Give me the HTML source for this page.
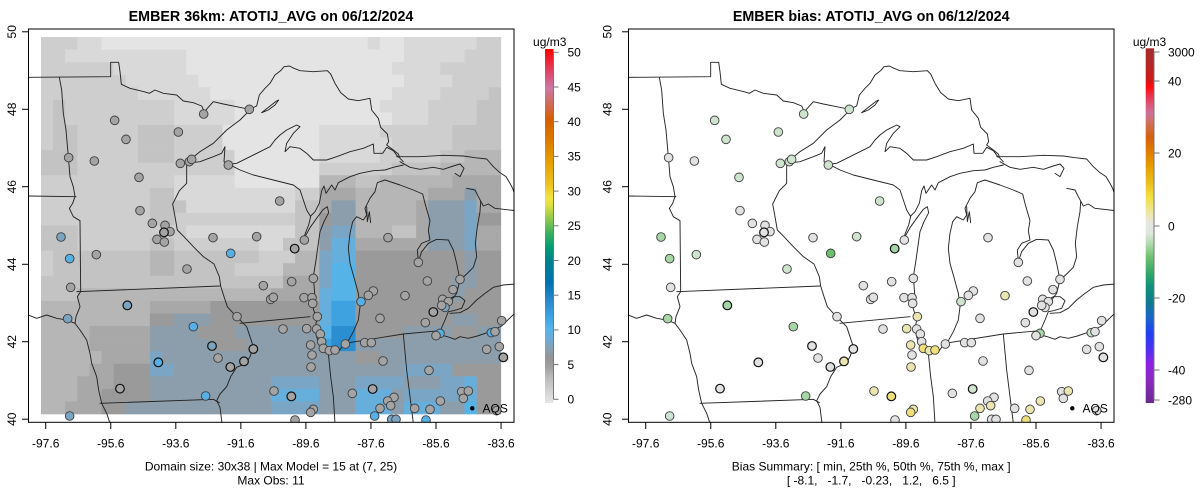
<!DOCTYPE html>
<html><head><meta charset="utf-8">
<style>
html,body{margin:0;padding:0;background:#fff;}
svg{display:block;font-family:"Liberation Sans",Arial,sans-serif;}
.t{font-size:12px;fill:#000;}
.ttl{font-size:14.3px;font-weight:bold;fill:#000;}
</style></head><body>
<svg id="s" width="1200" height="502" viewBox="0 0 1200 502" xmlns="http://www.w3.org/2000/svg">
<defs>
 <clipPath id="cl"><rect x="28.5" y="29" width="485.5" height="393.3"/></clipPath>
 <clipPath id="cr"><rect x="628.5" y="29" width="485.5" height="393.3"/></clipPath>
 <linearGradient id="gL" x1="0" y1="1" x2="0" y2="0">
  <stop offset="0" stop-color="#e6e6e6"/><stop offset="0.04" stop-color="#cfcfcf"/>
  <stop offset="0.08" stop-color="#b4b4b4"/><stop offset="0.1" stop-color="#a0a0a0"/>
  <stop offset="0.13" stop-color="#949494"/><stop offset="0.15" stop-color="#8aa0b0"/>
  <stop offset="0.18" stop-color="#6eaad6"/><stop offset="0.21" stop-color="#56b4e9"/>
  <stop offset="0.25" stop-color="#3aa0e0"/><stop offset="0.29" stop-color="#2a88cc"/>
  <stop offset="0.34" stop-color="#0072b2"/><stop offset="0.40" stop-color="#00808f"/>
  <stop offset="0.44" stop-color="#009e73"/><stop offset="0.48" stop-color="#3cb060"/>
  <stop offset="0.52" stop-color="#90c850"/><stop offset="0.56" stop-color="#e0e040"/>
  <stop offset="0.58" stop-color="#f0e442"/><stop offset="0.62" stop-color="#ecc020"/>
  <stop offset="0.68" stop-color="#e69f00"/><stop offset="0.74" stop-color="#dc7c00"/>
  <stop offset="0.80" stop-color="#d55e00"/><stop offset="0.84" stop-color="#cf6a50"/>
  <stop offset="0.89" stop-color="#cc79a7"/><stop offset="0.94" stop-color="#e04060"/>
  <stop offset="1" stop-color="#ff0000"/>
 </linearGradient>
 <linearGradient id="gR" x1="0" y1="0" x2="0" y2="1">
  <stop offset="0" stop-color="#a52a2a"/><stop offset="0.043" stop-color="#b02828"/>
  <stop offset="0.09" stop-color="#d01818"/><stop offset="0.109" stop-color="#ff0a0a"/>
  <stop offset="0.132" stop-color="#e8304a"/><stop offset="0.16" stop-color="#dc5878"/>
  <stop offset="0.184" stop-color="#cc7398"/><stop offset="0.212" stop-color="#d07058"/>
  <stop offset="0.25" stop-color="#d46010"/><stop offset="0.296" stop-color="#e08000"/>
  <stop offset="0.334" stop-color="#e69f00"/><stop offset="0.381" stop-color="#ecbf20"/>
  <stop offset="0.419" stop-color="#f0e040"/><stop offset="0.466" stop-color="#eee6a8"/>
  <stop offset="0.494" stop-color="#e6e6e6"/><stop offset="0.522" stop-color="#dde6dd"/>
  <stop offset="0.55" stop-color="#b0dcb0"/><stop offset="0.588" stop-color="#70c070"/>
  <stop offset="0.635" stop-color="#30a868"/><stop offset="0.672" stop-color="#10907a"/>
  <stop offset="0.719" stop-color="#107890"/><stop offset="0.757" stop-color="#1868c8"/>
  <stop offset="0.804" stop-color="#2040f0"/><stop offset="0.851" stop-color="#5030f0"/>
  <stop offset="0.889" stop-color="#9020e0"/><stop offset="0.935" stop-color="#8a2ac0"/>
  <stop offset="1" stop-color="#6a2a90"/>
 </linearGradient>
 <g id="map" fill="none" stroke="#222" stroke-width="2.8" stroke-linejoin="round" stroke-linecap="round">
  <path d="M25,142 L272,140 L272,97 L296,97 L300,125 L304,163 L330,175 L372,185 L388,190 L405,180 L430,190 L470,195 L490,213 L520,218 L545,228 L553,245 L580,215 L610,222 L650,230 L688,238 L710,228 L718,195 L735,175 L750,160 L765,135 L782,122 L792,110 L808,108 L822,115 L840,122 L880,125 L922,122 L932,132 L945,160 L962,188 L985,207 L1015,212 L1050,205 L1055,240 L1075,265 L1082,292 L1102,312 L1106,335 L1100,345 L1120,360 L1135,372 L1140,385 L1150,395"/>
  <path d="M1130,380 L1200,380 L1270,376 L1330,378 L1365,383 L1400,387 L1420,410 L1440,428 L1458,440 L1470,460 L1478,475 L1486,500"/>
  <path d="M1140,395 L1170,412 L1200,418 L1240,412 L1270,418 L1300,408 L1320,402 L1332,415 L1320,440 L1305,430"/>
  <path d="M1340,475 L1365,480 L1375,500 L1390,528 L1405,522 L1425,535 L1486,542"/>
  <path d="M1382,515 L1380,545 L1372,590 L1366,640 L1370,680 L1360,712 L1340,732 L1320,750 L1310,790 L1295,810"/>
  <path d="M1280,812 L1300,800 L1320,800 L1335,812 L1325,835 L1300,842 L1285,845 L1275,870 L1262,900 L1250,912 L1282,920 L1305,928 L1320,920 L1345,925 L1372,918 L1410,905 L1445,888 L1486,848"/>
  <path d="M1290,850 L1320,848 L1345,835 L1370,810 L1395,790 L1420,772 L1450,765 L1486,762"/>
  <path d="M1095,450 L1072,458 L1065,485 L1050,505 L1035,535 L1040,555 L1030,570 L1010,560 L998,575 L990,610 L985,655 L990,700 L1002,742 L1015,790 L1020,830 L1015,870 L1000,905 L985,932 L970,945 L958,962 L935,966 L910,952 L893,930 L884,900 L890,870 L878,830 L884,790 L880,740 L888,690 L895,640 L900,605 L912,575 L926,548 L922,530 L910,538 L892,562 L872,590 L855,620"/>
  <path d="M1040,530 L1042,575 L1048,545 L1052,578"/>
  <path d="M1095,450 L1140,465 L1180,480 L1208,492 L1215,520 L1222,545 L1230,572 L1225,602 L1230,630 L1205,640 L1192,660 L1195,695 L1205,665 L1225,640 L1250,628 L1285,630 L1300,660 L1310,700 L1320,750"/>
  <path d="M627,403 L660,420 L700,435 L760,450 L820,465 L840,480 L850,510 L860,540 L872,560 L866,585 L856,610 L850,628"/>
  <path d="M872,558 L885,545 L898,520 L905,482 L912,468 L918,490 L935,465 L945,480 L955,458 L990,440 L1020,430 L1060,422 L1095,420 L1120,412 L1150,405"/>
  <path d="M500,400 L540,395 L580,380 L605,370 L615,350 L612,395 L627,403 L650,400 L690,380 L720,365 L750,350 L765,330 L780,315 L800,300 L830,285 L840,290 L820,310 L800,340 L795,365 L810,350 L840,355 L860,370 L880,390 L920,390 L950,380 L990,365 L1030,355 L1060,342 L1062,370 L1088,370 L1100,352 L1120,362 L1135,382"/>
  <path d="M500,398 L540,365 L580,340 L620,300 L660,270 L680,250 L690,240"/>
  <path d="M725,248 L745,232 L768,214 L776,210 L765,225 L745,240 Z"/>
  <path d="M500,400 L500,460 L478,482 L458,522 L465,560 L472,600 L492,620 L520,650 L550,680 L582,702 L598,740 L602,768 L612,800 L622,830 L640,850 L662,872 L680,890 L690,920 L700,950 L690,980 L678,1000 L650,1012 L632,1040 L620,1070 L600,1092 L590,1112 L600,1132 L606,1180"/>
  <path d="M170,785 L600,768"/>
  <path d="M660,880 L870,860"/>
  <path d="M925,970 L932,1040 L940,1100 L945,1180"/>
  <path d="M975,940 L1150,912 L1258,902"/>
  <path d="M1150,912 L1160,1020 L1180,1180"/>
  <path d="M118,142 L125,180 L130,250 L138,300 L145,380 L150,440 L160,470 L165,500 L158,520 L148,535 L160,560 L180,572 L182,785"/>
  <path d="M25,498 L168,500"/>
  <path d="M25,855 L50,865 L80,855 L110,865 L140,870 L165,880"/>
  <path d="M182,785 L172,800 L180,830 L168,860 L165,880 L180,900 L200,930 L210,970 L215,1000 L230,1040 L236,1080 L245,1120 L260,1150 L270,1180"/>
  <path d="M240,1120 L580,1108 L598,1118"/>
 </g>
</defs>
<rect width="1200" height="502" fill="#fff"/>

<!-- LEFT PANEL -->
<g clip-path="url(#cl)">
 <g id="rasterL" transform="translate(20,30) scale(0.333333)"></g>
 <use href="#map" transform="translate(20,30) scale(0.333333)"/>
 <g id="ptsL" transform="translate(20,30) scale(0.333333)"></g>
 <circle cx="472.3" cy="408.3" r="2.2" fill="#000"/>
 <text class="t" x="482.5" y="412.5">AQS</text>
</g>
<rect x="28.5" y="29" width="485.5" height="393.3" fill="none" stroke="#000" stroke-width="1"/>
<text class="ttl" x="271" y="21" text-anchor="middle">EMBER 36km: ATOTIJ_AVG on 06/12/2024</text>
<g stroke="#000" stroke-width="1">
 <line x1="22" y1="31.8" x2="28.5" y2="31.8"/><line x1="22" y1="109.3" x2="28.5" y2="109.3"/>
 <line x1="22" y1="186.7" x2="28.5" y2="186.7"/><line x1="22" y1="264.3" x2="28.5" y2="264.3"/>
 <line x1="22" y1="341.7" x2="28.5" y2="341.7"/><line x1="22" y1="419.2" x2="28.5" y2="419.2"/>
 <line x1="45.7" y1="422.3" x2="45.7" y2="429"/><line x1="110.75" y1="422.3" x2="110.75" y2="429"/>
 <line x1="175.8" y1="422.3" x2="175.8" y2="429"/><line x1="240.85" y1="422.3" x2="240.85" y2="429"/>
 <line x1="305.9" y1="422.3" x2="305.9" y2="429"/><line x1="370.95" y1="422.3" x2="370.95" y2="429"/>
 <line x1="436" y1="422.3" x2="436" y2="429"/><line x1="501.05" y1="422.3" x2="501.05" y2="429"/>
</g>
<g class="t" text-anchor="middle">
 <text transform="translate(15.8,31.8) rotate(-90)">50</text>
 <text transform="translate(15.8,109.3) rotate(-90)">48</text>
 <text transform="translate(15.8,186.7) rotate(-90)">46</text>
 <text transform="translate(15.8,264.3) rotate(-90)">44</text>
 <text transform="translate(15.8,341.7) rotate(-90)">42</text>
 <text transform="translate(15.8,419.2) rotate(-90)">40</text>
 <text x="45.7" y="447.5">-97.6</text><text x="110.75" y="447.5">-95.6</text>
 <text x="175.8" y="447.5">-93.6</text><text x="240.85" y="447.5">-91.6</text>
 <text x="305.9" y="447.5">-89.6</text><text x="370.95" y="447.5">-87.6</text>
 <text x="436" y="447.5">-85.6</text><text x="501.05" y="447.5">-83.6</text>
 <text x="271" y="470.5">Domain size: 30x38 | Max Model = 15 at (7, 25)</text>
 <text x="271" y="484.5">Max Obs: 11</text>
</g>
<!-- left colorbar -->
<rect x="545" y="49" width="8.5" height="354" fill="url(#gL)"/>
<line x1="553.5" y1="52.3" x2="553.5" y2="399.3" stroke="#777" stroke-width="1"/>
<g stroke="#777" stroke-width="1">
 <line x1="553.5" y1="52.3" x2="558.5" y2="52.3"/><line x1="553.5" y1="87" x2="558.5" y2="87"/>
 <line x1="553.5" y1="121.7" x2="558.5" y2="121.7"/><line x1="553.5" y1="156.4" x2="558.5" y2="156.4"/>
 <line x1="553.5" y1="191.1" x2="558.5" y2="191.1"/><line x1="553.5" y1="225.8" x2="558.5" y2="225.8"/>
 <line x1="553.5" y1="260.5" x2="558.5" y2="260.5"/><line x1="553.5" y1="295.2" x2="558.5" y2="295.2"/>
 <line x1="553.5" y1="329.9" x2="558.5" y2="329.9"/><line x1="553.5" y1="364.6" x2="558.5" y2="364.6"/>
 <line x1="553.5" y1="399.3" x2="558.5" y2="399.3"/>
</g>
<g class="t">
 <text x="567.5" y="56.6">50</text><text x="567.5" y="91.3">45</text><text x="567.5" y="126">40</text>
 <text x="567.5" y="160.7">35</text><text x="567.5" y="195.4">30</text><text x="567.5" y="230.1">25</text>
 <text x="567.5" y="264.8">20</text><text x="567.5" y="299.5">15</text><text x="567.5" y="334.2">10</text>
 <text x="567.5" y="368.9">5</text><text x="567.5" y="403.6">0</text>
 <text x="549.7" y="45.8" text-anchor="middle">ug/m3</text>
</g>

<!-- RIGHT PANEL -->
<g clip-path="url(#cr)">
 <use href="#map" transform="translate(620,30) scale(0.333333)"/>
 <g id="ptsR" transform="translate(620,30) scale(0.333333)"></g>
 <circle cx="1072.3" cy="408.3" r="2.2" fill="#000"/>
 <text class="t" x="1082.5" y="412.5">AQS</text>
</g>
<rect x="628.5" y="29" width="485.5" height="393.3" fill="none" stroke="#000" stroke-width="1"/>
<text class="ttl" x="871.2" y="21" text-anchor="middle">EMBER bias: ATOTIJ_AVG on 06/12/2024</text>
<g stroke="#000" stroke-width="1">
 <line x1="622" y1="31.8" x2="628.5" y2="31.8"/><line x1="622" y1="109.3" x2="628.5" y2="109.3"/>
 <line x1="622" y1="186.7" x2="628.5" y2="186.7"/><line x1="622" y1="264.3" x2="628.5" y2="264.3"/>
 <line x1="622" y1="341.7" x2="628.5" y2="341.7"/><line x1="622" y1="419.2" x2="628.5" y2="419.2"/>
 <line x1="645.7" y1="422.3" x2="645.7" y2="429"/><line x1="710.75" y1="422.3" x2="710.75" y2="429"/>
 <line x1="775.8" y1="422.3" x2="775.8" y2="429"/><line x1="840.85" y1="422.3" x2="840.85" y2="429"/>
 <line x1="905.9" y1="422.3" x2="905.9" y2="429"/><line x1="970.95" y1="422.3" x2="970.95" y2="429"/>
 <line x1="1036" y1="422.3" x2="1036" y2="429"/><line x1="1101.05" y1="422.3" x2="1101.05" y2="429"/>
</g>
<g class="t" text-anchor="middle">
 <text transform="translate(611.5,31.8) rotate(-90)">50</text>
 <text transform="translate(611.5,109.3) rotate(-90)">48</text>
 <text transform="translate(611.5,186.7) rotate(-90)">46</text>
 <text transform="translate(611.5,264.3) rotate(-90)">44</text>
 <text transform="translate(611.5,341.7) rotate(-90)">42</text>
 <text transform="translate(611.5,419.2) rotate(-90)">40</text>
 <text x="645.7" y="447.5">-97.6</text><text x="710.75" y="447.5">-95.6</text>
 <text x="775.8" y="447.5">-93.6</text><text x="840.85" y="447.5">-91.6</text>
 <text x="905.9" y="447.5">-89.6</text><text x="970.95" y="447.5">-87.6</text>
 <text x="1036" y="447.5">-85.6</text><text x="1101.05" y="447.5">-83.6</text>
 <text x="871.2" y="470.5">Bias Summary: [ min, 25th %, 50th %, 75th %, max ]</text>
 <text x="871.2" y="484.5" xml:space="preserve" style="white-space:pre">[ -8.1,   -1.7,   -0.23,   1.2,   6.5 ]</text>
</g>
<!-- right colorbar -->
<rect x="1145.7" y="48.3" width="8.4" height="354.7" fill="url(#gR)"/>
<line x1="1154" y1="52" x2="1154" y2="400" stroke="#777" stroke-width="1"/>
<g stroke="#777" stroke-width="1">
 <line x1="1154" y1="52" x2="1159.5" y2="52"/><line x1="1154" y1="81" x2="1159.5" y2="81"/>
 <line x1="1154" y1="153" x2="1159.5" y2="153"/><line x1="1154" y1="226" x2="1159.5" y2="226"/>
 <line x1="1154" y1="298" x2="1159.5" y2="298"/><line x1="1154" y1="370" x2="1159.5" y2="370"/>
 <line x1="1154" y1="400" x2="1159.5" y2="400"/>
</g>
<g class="t">
 <text x="1168" y="56.3">3000</text><text x="1168" y="85.3">40</text><text x="1168" y="157.3">20</text>
 <text x="1168" y="230.3">0</text><text x="1168" y="302.3">-20</text><text x="1168" y="374.3">-40</text>
 <text x="1168" y="404.3">-280</text>
 <text x="1149.5" y="45.8" text-anchor="middle">ug/m3</text>
</g>
</svg>
<script>
(function(){
var col={a:'#e4e4e4',b:'#d9d9d9',c:'#cecece',d:'#c3c3c3',e:'#b6b6b6',f:'#a8a8a8',g:'#9a9a9a',h:'#8c9eab',i:'#7aa5c4',j:'#66aedb',k:'#55b3e8',l:'#3fa2e0',m:'#2b8ed0'};
var rows=[
'c3b2a22b1a2b6c2','c2b10a18b5c3','c6b6a17b4c5','c7b6a17b4c4','c8b6a15b4c4d1',
'c1d1c9b5a12b4c4d2','c1d1c9b5a13b3c4d2','c1d2c5d3c4a8b5c6d4','c1d2c5d3c4a8b6c5d4','d3c5d3c5a7b5c5d2e3',
'd3c13a7c6d4e5','c11b5a7e3d2e6f4','c9d2b10c2f3e6f3h1f2','c9d3b9d2f1h2e5f1h3i1f2','c9d2c10d2g1h2e5f1h3i1g2',
'd3c9b9d2h1i2e3d2f1h3i1f2','d3c6d2c7b2d3h1j2f6h3i1f2','c1d8e2d7c3e2i1j2g6g3h1g2','c1d8e2d5c4e3i1k2g9h1g2','d20f3i1k2g8h2g2',
'd3e16f4j1k2g8h1g3','e9f5g9j1l2g12','e9g2h3g9j1l2g8h2g2','e4f5h4g3h7k1m2g4h4g2h2','e4f5h5g3h6l1m2h12',
'e5f4i1h16g2h10','e4f2g3i2h12h3h4i4g4','e3f3g3h10i4h3i4h3i2j1g2','e3f2g4h10j4h3j3h1i5j1g2','e2f3g2h12i4h3j3h1j3h2k1g2'
];
var s='',cw=36.3,ch=37.7;
for(var r=0;r<rows.length;r++){
 var re=/([a-m])(\d+)/g,m,c=0;
 while((m=re.exec(rows[r]))){
  var n=parseInt(m[2],10);
  s+='<rect x="'+(63+cw*c).toFixed(1)+'" y="'+(21+ch*r).toFixed(1)+'" width="'+(cw*n+1).toFixed(1)+'" height="'+(ch+1).toFixed(1)+'" fill="'+col[m[1]]+'"/>';
  c+=n;
 }
}
document.getElementById('rasterL').innerHTML=s;
var LF={G:'#a4a4a4',B:'#56b0e6',Q:'#7aa4c2'};
var RF={L:'#e2e2e2',N:'#cfe4cf',M:'#a6d6a6',S:'#6cc06c',Y:'#ebe5b0',Z:'#efe07a'};
var P=[
[551,252,'G','N'],[688,238,'G','N'],[284,271,'G','N'],[475,306,'G','N'],[318,328,'G','N'],
[146,383,'G','L'],[223,393,'G','L'],[481,400,'G','N'],[508,395,'G','N'],[515,388,'G','N'],
[625,405,'G','N'],[357,442,'G','N'],[779,513,'G','N'],[360,542,'G','L'],[397,580,'G','L'],
[435,586,'G','L'],[450,605,'G','L'],[432,607,'G','L',1],[411,628,'G','L'],[433,636,'G','L'],
[123,621,'Q','M'],[149,686,'B','M'],[229,674,'G','N'],[579,623,'G','L'],[710,620,'G','N'],
[632,670,'B','S'],[501,717,'G','N'],[152,772,'G','L'],[824,656,'G','M',1],[853,630,'G','L'],
[880,745,'G','L'],[730,767,'G','L'],[815,755,'G','L'],[752,808,'G','L'],[760,802,'G','L'],
[852,803,'G','L'],[876,803,'G','L'],[878,820,'G','L'],[322,826,'Q','M',1],[143,866,'Q','M'],
[651,860,'G','L'],[520,890,'B','M'],[576,948,'Q','L',1],[594,984,'G','L'],[700,957,'G','L',1],
[415,997,'B','L',1],[631,1011,'G','L',1],[672,994,'G','Y',1],[300,1076,'G','L',1],[557,1098,'B','M'],
[149,1158,'Q','N'],[1104,623,'G','L'],[1195,697,'G','L'],[1222,753,'G','L'],[1320,748,'G','L'],
[1299,779,'G','L'],[1155,797,'G','Y'],[1060,783,'G','L'],[1045,796,'G','L'],[1023,815,'B','N'],
[1080,865,'G','L'],[1268,808,'G','L'],[1285,815,'G','L'],[1275,832,'Q','L'],[1265,826,'G','L'],
[1240,846,'G','L',1],[1216,878,'G','L'],[1260,910,'B','M'],[1248,917,'G','L'],[1414,908,'B','N'],
[1445,872,'G','L'],[1425,905,'G','L'],[1400,958,'G','L'],[1438,950,'G','L'],[1450,982,'G','L',1],
[1089,993,'G','L'],[1227,1021,'G','L'],[976,942,'G','L'],[1034,938,'G','L'],[1054,938,'G','L'],
[892,860,'G','Y'],[890,897,'G','L'],[901,912,'G','L'],[860,896,'G','Y'],[872,945,'G','Y'],
[905,935,'G','L'],[910,955,'G','Z'],[928,962,'G','Y'],[945,960,'G','Z'],[876,975,'G','L'],
[873,1011,'G','Y'],[789,897,'G','L'],[762,1083,'G','Y'],[814,1099,'G','Z',1],[880,1138,'G','Y'],
[872,1147,'G','Z'],[997,1090,'G','L'],[1058,1077,'G','N',1],[1122,1102,'G','L'],[1103,1113,'G','L'],
[1112,1127,'G','Y'],[1080,1135,'G','Y'],[1064,1158,'B','M'],[1184,1135,'G','L'],[1230,1138,'G','Y'],
[1261,1113,'G','Y'],[1325,1085,'G','L'],[1345,1083,'G','Y'],[1330,1105,'G','L'],[1218,1170,'B','Z'],
[825,1170,'G','L'],[1430,1142,'G','L'],[1115,1168,'Q','L'],[1128,1168,'Q','L']
];
var a='',b='';
for(var i=0;i<P.length;i++){
 var p=P[i],th=p[4];
 var st=th?'stroke="#111" stroke-width="3.6"':'stroke="#3f3f3f" stroke-width="2.8"';
 a+='<circle cx="'+p[0]+'" cy="'+p[1]+'" r="13" fill="'+LF[p[2]]+'" '+st+'/>';
 b+='<circle cx="'+p[0]+'" cy="'+p[1]+'" r="13" fill="'+RF[p[3]]+'" '+st+'/>';
}
document.getElementById('ptsL').innerHTML=a;
document.getElementById('ptsR').innerHTML=b;
})();
</script>
</body></html>
